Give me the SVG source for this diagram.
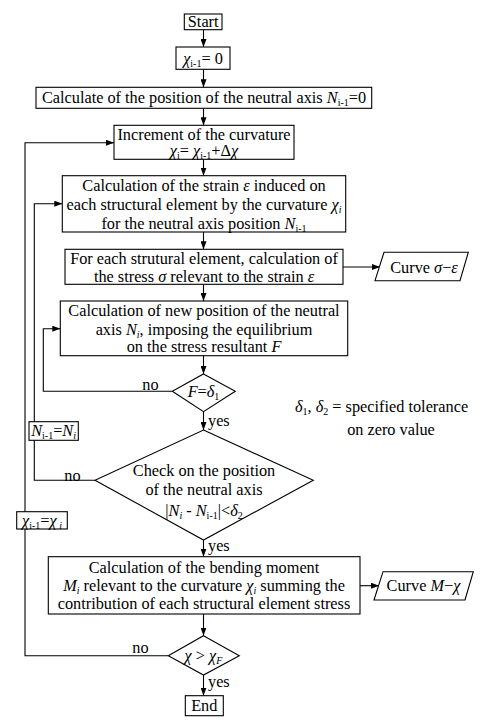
<svg xmlns="http://www.w3.org/2000/svg" width="481" height="720" viewBox="0 0 481 720">
<defs>
<marker id="arr" markerUnits="userSpaceOnUse" markerWidth="8" markerHeight="6" refX="8" refY="3" orient="auto">
<path d="M0,0 L8,3 L0,6 Z" fill="#000"/>
</marker>
<style>
.b{fill:#fff;stroke:#000;stroke-width:1.1}
.t{font-family:"Liberation Serif","Times New Roman",serif;font-size:16.3px;fill:#000}
.m{text-anchor:middle}
.i{font-style:italic}
.s{font-size:10px}
.c{fill:none;stroke:#000;stroke-width:1.1}
</style>
</defs>
<rect width="481" height="720" fill="#fff"/>
<g id="connectors">
<path class="c" d="M203.5,29.7 V47" marker-end="url(#arr)"/>
<path class="c" d="M203.5,69.3 V87.3" marker-end="url(#arr)"/>
<path class="c" d="M203.5,108.3 V125.3" marker-end="url(#arr)"/>
<path class="c" d="M203.5,159.3 V175.7" marker-end="url(#arr)"/>
<path class="c" d="M203.5,232 V249.3" marker-end="url(#arr)"/>
<path class="c" d="M203.5,284.3 V301" marker-end="url(#arr)"/>
<path class="c" d="M203.5,355.7 V374" marker-end="url(#arr)"/>
<path class="c" d="M203.5,411.7 V430" marker-end="url(#arr)"/>
<path class="c" d="M203.5,540 V556.7" marker-end="url(#arr)"/>
<path class="c" d="M203.5,614 V635.7" marker-end="url(#arr)"/>
<path class="c" d="M203.5,675 V695.7" marker-end="url(#arr)"/>
<path class="c" d="M343,267 H380" marker-end="url(#arr)"/>
<path class="c" d="M360,585.7 H379" marker-end="url(#arr)"/>
<path class="c" d="M172.3,391.3 H43.3 V328.7 H60.3" marker-end="url(#arr)"/>
<path class="c" d="M95,480.3 H34.3 V203.7 H62.3" marker-end="url(#arr)"/>
<path class="c" d="M168.3,655.7 H25 V142.7 H114" marker-end="url(#arr)"/>
</g>
<g id="start"><rect class="b" x="184.3" y="14" width="37.7" height="15.7"/><text class="t m" x="203.2" y="27.3">Start</text></g>
<g id="init-chi"><rect class="b" x="176" y="47" width="54" height="22.3"/><text class="t m" x="203" y="63.5"><tspan class="i">χ</tspan><tspan class="s" dy="3">i-1</tspan><tspan dy="-3">= 0</tspan></text></g>
<g id="init-axis"><rect class="b" x="36" y="87.3" width="335.7" height="21"/><text class="t m" x="204" y="103.3">Calculate of the position of the neutral axis <tspan class="i">N</tspan><tspan class="s" dy="3">i-1</tspan><tspan dy="-3">=0</tspan></text></g>
<g id="increment"><rect class="b" x="114" y="125.3" width="180" height="34"/><text class="t m" x="204" y="139.5">Increment of the curvature</text><text class="t m" x="204" y="156"><tspan class="i">χ</tspan><tspan class="s" dy="3">i</tspan><tspan dy="-3">= </tspan><tspan class="i">χ</tspan><tspan class="s" dy="3">i-1</tspan><tspan dy="-3">+Δ</tspan><tspan class="i">χ</tspan></text></g>
<g id="strain"><rect class="b" x="62.3" y="175.7" width="283.4" height="56.3"/><text class="t m" x="204" y="191.3">Calculation of the strain <tspan class="i">ε</tspan> induced on</text><text class="t m" x="204" y="210">each structural element by the curvature <tspan class="i">χ</tspan><tspan class="s i" dy="3">i</tspan></text><text class="t m" x="204" y="228.5">for the neutral axis position <tspan class="i">N</tspan><tspan class="s" dy="3">i-1</tspan></text></g>
<g id="stress"><rect class="b" x="65" y="249.3" width="278" height="35"/><text class="t m" x="204" y="263.8">For each strutural element, calculation of</text><text class="t m" x="204" y="282">the stress <tspan class="i">σ</tspan> relevant to the strain <tspan class="i">ε</tspan></text></g>
<g id="curve-sigma"><path class="b" d="M384,252.3 H468.3 L460,280.7 H375 Z"/><text class="t m" x="424" y="272.5">Curve  <tspan class="i">σ</tspan>−<tspan class="i">ε</tspan></text></g>
<g id="new-axis"><rect class="b" x="60.3" y="301" width="287.4" height="54.7"/><text class="t m" x="204" y="316.2">Calculation of new position of the neutral</text><text class="t m" x="204" y="334.5">axis <tspan class="i">N</tspan><tspan class="s i" dy="3">i</tspan><tspan dy="-3">, imposing the equilibrium</tspan></text><text class="t m" x="204" y="352">on the stress resultant <tspan class="i">F</tspan></text></g>
<g id="check-f"><path class="b" d="M203.5,374 L235.3,391.3 L203.5,411.7 L172.3,391.3 Z"/><text class="t m" x="203.5" y="396.5"><tspan class="i">F</tspan>=<tspan class="i">δ</tspan><tspan class="s" dy="3">1</tspan></text></g>
<g id="set-axis"><rect class="b" x="29" y="421.7" width="49.3" height="18.6"/><text class="t m" x="53.6" y="436"><tspan class="i">N</tspan><tspan class="s" dy="3">i-1</tspan><tspan dy="-3">=</tspan><tspan class="i">N</tspan><tspan class="s i" dy="3">i</tspan></text></g>
<g id="check-axis"><path class="b" d="M203.5,430 L313.3,480.3 L203.5,540 L95,480.3 Z"/><text class="t m" x="204" y="475.5">Check on the position</text><text class="t m" x="204" y="495">of the neutral axis</text><text class="t m" x="204" y="515.5">|<tspan class="i">N</tspan><tspan class="s i" dy="3">i</tspan><tspan dy="-3"> - </tspan><tspan class="i">N</tspan><tspan class="s" dy="3">i-1</tspan><tspan dy="-3">|&lt;</tspan><tspan class="i">δ</tspan><tspan class="s" dy="3">2</tspan></text></g>
<g id="set-chi"><rect class="b" x="16.7" y="511.7" width="50.6" height="17.3"/><text class="t m" x="42" y="525.8"><tspan class="i">χ</tspan><tspan class="s" dy="3">i-1</tspan><tspan dy="-3">=</tspan><tspan class="i">χ</tspan><tspan class="s i" dy="3"> i</tspan></text></g>
<g id="note"><text class="t" x="295" y="412"><tspan class="i">δ</tspan><tspan class="s" dy="3">1</tspan><tspan dy="-3">, </tspan><tspan class="i">δ</tspan><tspan class="s" dy="3">2</tspan><tspan dy="-3"> = specified tolerance</tspan></text><text class="t m" x="391" y="434.5">on zero value</text></g>
<g id="moment"><rect class="b" x="48.3" y="556.7" width="311.7" height="57.3"/><text class="t m" x="204" y="572.8">Calculation of the bending moment</text><text class="t m" x="204" y="591.2"><tspan class="i">M</tspan><tspan class="s i" dy="3">i</tspan><tspan dy="-3"> relevant to the curvature </tspan><tspan class="i">χ</tspan><tspan class="s i" dy="3">i</tspan><tspan dy="-3"> summing the</tspan></text><text class="t m" x="204" y="608.8">contribution of each structural element stress</text></g>
<g id="curve-m"><path class="b" d="M383,571.7 H473.3 L465,600 H374 Z"/><text class="t m" x="423.5" y="591">Curve  <tspan class="i">M</tspan>−<tspan class="i">χ</tspan></text></g>
<g id="check-chi"><path class="b" d="M203.5,635.7 L239.3,655.7 L203.5,675 L168.3,655.7 Z"/><text class="t m" x="203.5" y="661"><tspan class="i">χ</tspan> &gt; <tspan class="i">χ</tspan><tspan class="s i" dy="3">F</tspan></text></g>
<g id="end"><rect class="b" x="185.3" y="695.7" width="38" height="20"/><text class="t m" x="204.3" y="711">End</text></g>
<g id="labels">
<text class="t m" x="150.5" y="390">no</text>
<text class="t m" x="72.5" y="481">no</text>
<text class="t m" x="140.5" y="653">no</text>
<text class="t" x="208" y="425.5">yes</text>
<text class="t" x="208" y="550.5">yes</text>
<text class="t" x="208" y="687">yes</text>
</g>
</svg>
